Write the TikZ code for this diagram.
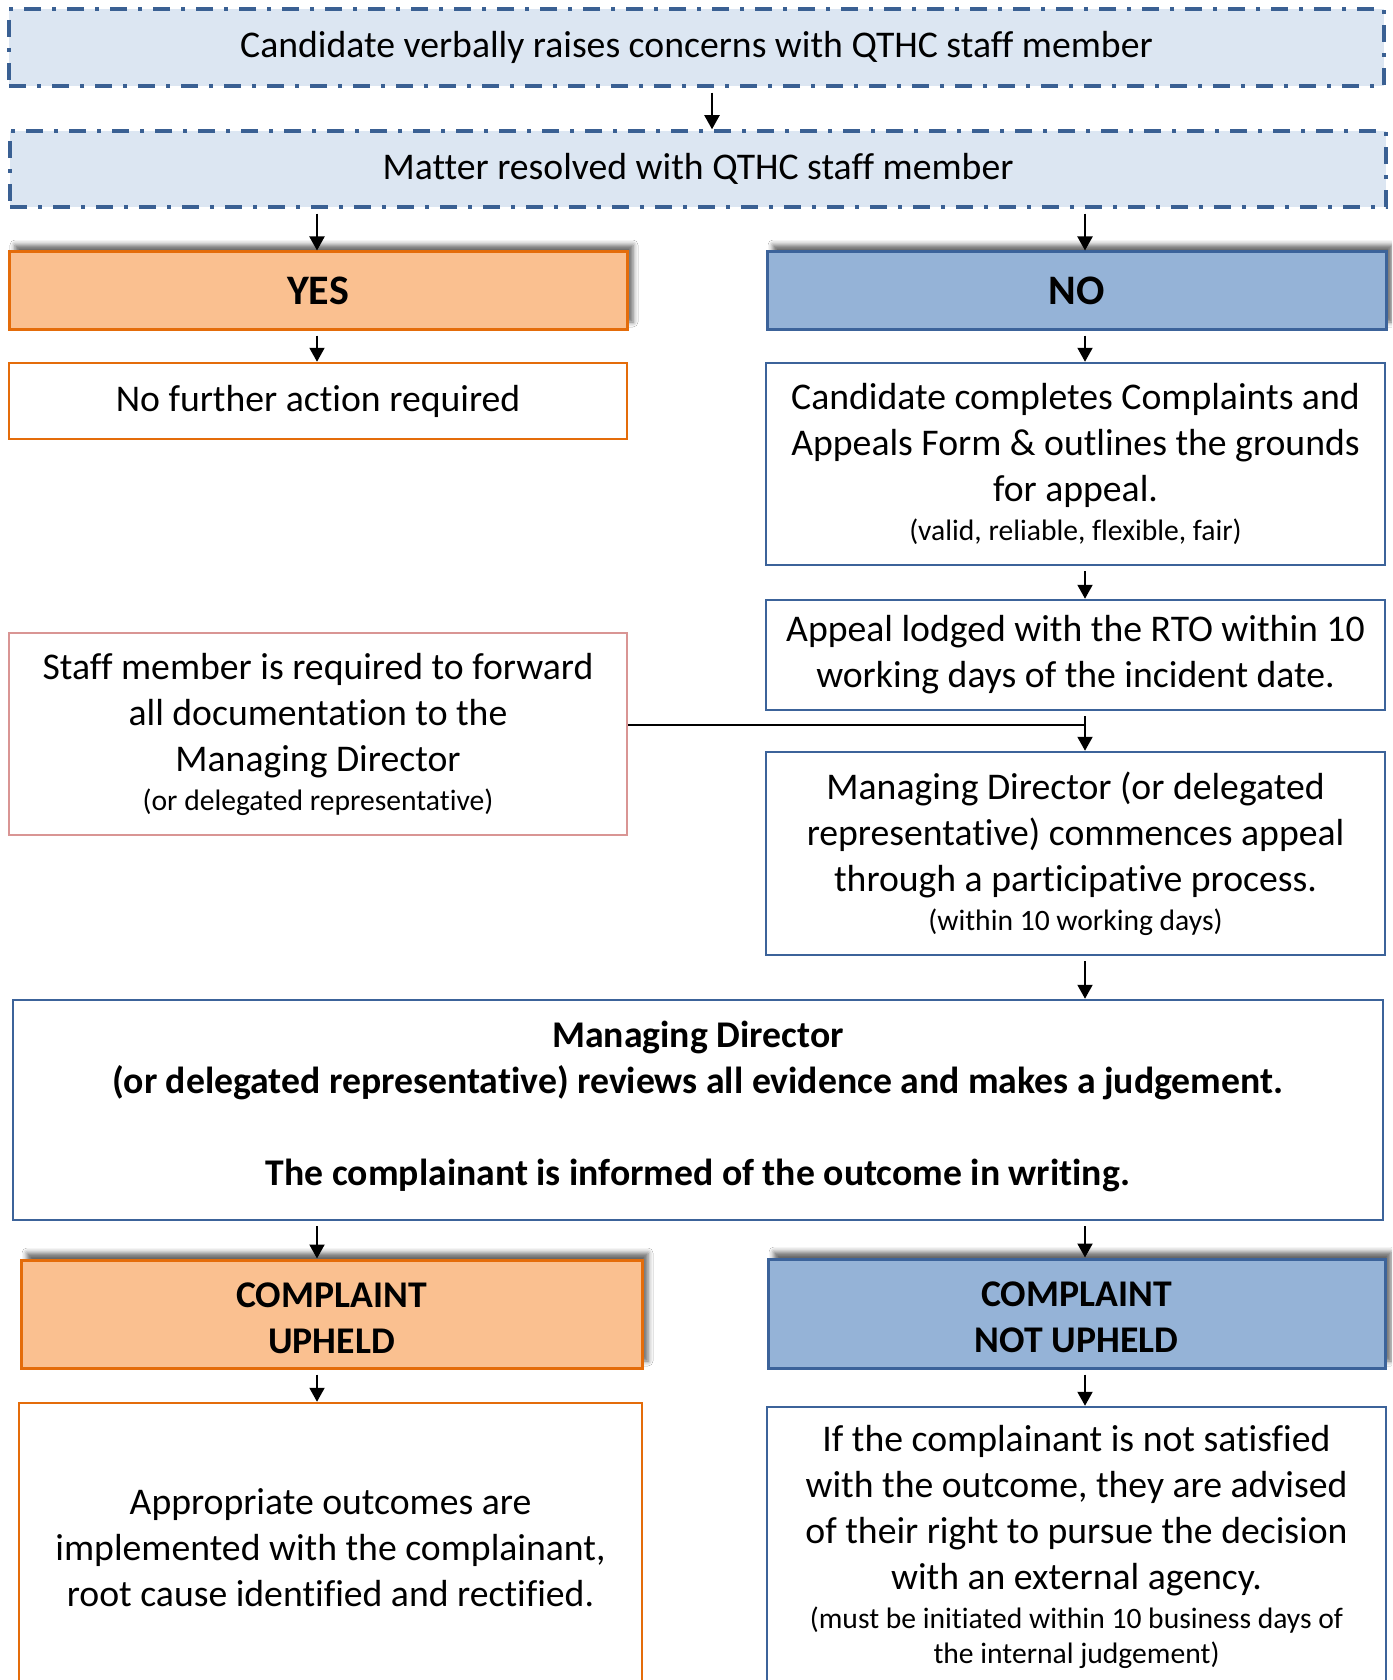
\documentclass[tikz,border=0pt]{standalone}
\usepackage{fontspec}
\setmainfont{Carlito}[Ligatures=NoCommon]
\usetikzlibrary{arrows.meta,shadows.blur}
\definecolor{paleblue}{HTML}{DCE6F2}
\definecolor{dashblue}{HTML}{3A6093}
\definecolor{orfill}{HTML}{FAC090}
\definecolor{orline}{HTML}{E46C0A}
\definecolor{bluefill}{HTML}{95B3D7}
\definecolor{blueline}{HTML}{3C639A}
\definecolor{pinkline}{HTML}{D99594}
\newcommand\bigtxt{\fontsize{37.7}{46}\selectfont}
\newcommand\hugetxt{\fontsize{42}{51}\selectfont}
\newcommand\smtxt{\fontsize{29.6}{35.4}\selectfont}
\begin{document}
\begin{tikzpicture}[x=1pt,y=-1pt,
  base/.style={draw, align=center, inner sep=0pt, font=\bigtxt, text=black},
  dashbox/.style={base, fill=paleblue, draw=dashblue, line width=3.5pt,
    dash pattern=on 17pt off 11pt on 4pt off 11pt},
  headshadow/.style={blur shadow={shadow xshift=6pt, shadow yshift=7pt, shadow blur radius=5pt, shadow opacity=60}},
  orhead/.style={base, fill=orfill, draw=orline, line width=3pt, font=\bigtxt\bfseries, headshadow},
  bluehead/.style={base, fill=bluefill, draw=blueline, line width=3pt, font=\bigtxt\bfseries, headshadow},
  orbox/.style={base, fill=white, draw=orline, line width=2.5pt},
  bluebox/.style={base, fill=white, draw=blueline, line width=2.5pt},
  pinkbox/.style={base, fill=white, draw=pinkline, line width=2.5pt},
  arr/.style={line width=2pt, -{Triangle[width=15pt,length=14pt]}, shorten <=5pt},
  joinline/.style={line width=2.5pt}]
\useasboundingbox (0,0) rectangle (1392,1680);
\clip (0,0) rectangle (1392,1680);
\fill[white] (0,0) rectangle (1392,1680);

\coordinate (M) at (712,0);
\coordinate (L) at (317,0);
\coordinate (R) at (1085,0);
\coordinate (J) at (1085,725);

\node[dashbox, minimum width=1375pt, minimum height=77pt] (top1) at (696.5,47.5)
  {Candidate verbally raises concerns with QTHC staff member};
\node[dashbox, minimum width=1376pt, minimum height=76pt] (top2) at (698,169)
  {Matter resolved with QTHC staff member};

\node[orhead, font=\hugetxt\bfseries, minimum width=618pt, minimum height=77pt] (yes) at (318,290.5) {YES};
\node[bluehead, font=\hugetxt\bfseries, minimum width=619pt, minimum height=77pt] (no) at (1076.5,290.5) {NO};

\node[orbox, minimum width=618pt, minimum height=76pt] (nofurther) at (318,401)
  {No further action required};
\node[bluebox, minimum width=619pt, minimum height=202pt] (form) at (1075.5,464)
  {Candidate completes Complaints and\\ Appeals Form \& outlines the grounds\\ for appeal.\\[-7pt]
   \smtxt (valid, reliable, flexible, fair)};
\node[bluebox, minimum width=619pt, minimum height=110pt] (lodged) at (1075.5,655)
  {Appeal lodged with the RTO within 10\\ working days of the incident date.};
\node[pinkbox, minimum width=618pt, minimum height=202pt] (staff) at (318,734)
  {Staff member is required to forward\\ all documentation to the\\ Managing Director\\[-7pt]
   \smtxt (or delegated representative)};
\node[bluebox, minimum width=619pt, minimum height=203pt] (commence) at (1075.5,853.5)
  {Managing Director (or delegated\\ representative) commences appeal\\ through a participative process.\\[-7pt]
   \smtxt (within 10 working days)};
\node[bluebox, minimum width=1370pt, minimum height=220pt, font=\bigtxt\bfseries] (review) at (698,1110)
  {Managing Director\\ (or delegated representative) reviews all evidence and makes a judgement.\\[46pt]
   The complainant is informed of the outcome in writing.\rule[-13pt]{0pt}{13pt}};

\node[orhead, minimum width=621pt, minimum height=108pt] (upheld) at (331.5,1314)
  {\rule{0pt}{33pt}COMPLAINT\\ UPHELD};
\node[bluehead, minimum width=617pt, minimum height=109pt] (notupheld) at (1076.5,1313.5)
  {\rule{0pt}{33pt}COMPLAINT\\ NOT UPHELD};

\node[orbox, minimum width=623pt, minimum height=290pt] (outcomes) at (330.5,1548)
  {Appropriate outcomes are\\ implemented with the complainant,\\ root cause identified and rectified.};
\node[bluebox, minimum width=619pt, minimum height=280pt] (advise) at (1076.5,1547)
  {If the complainant is not satisfied\\ with the outcome, they are advised\\ of their right to pursue the decision\\ with an external agency.\\[-7.5pt]
   \smtxt (must be initiated within 10 business days of\\[-10.6pt] \smtxt the internal judgement)};

\draw[arr] (top1.south -| M) -- (top2.north -| M);
\draw[arr] (top2.south -| L) -- (yes.north -| L);
\draw[arr] (top2.south -| R) -- (no.north -| R);
\draw[arr] (yes.south -| L) -- (nofurther.north -| L);
\draw[arr] (no.south -| R) -- (form.north -| R);
\draw[arr] (form.south -| R) -- (lodged.north -| R);
\draw[arr] (lodged.south -| R) -- (commence.north -| R);
\draw[joinline] (staff.east |- J) -- (J);
\draw[arr] (commence.south -| R) -- (review.north -| R);
\draw[arr] (review.south -| L) -- (upheld.north -| L);
\draw[arr] (review.south -| R) -- (notupheld.north -| R);
\draw[arr] (upheld.south -| L) -- (outcomes.north -| L);
\draw[arr] (notupheld.south -| R) -- (advise.north -| R);
\end{tikzpicture}
\end{document}
